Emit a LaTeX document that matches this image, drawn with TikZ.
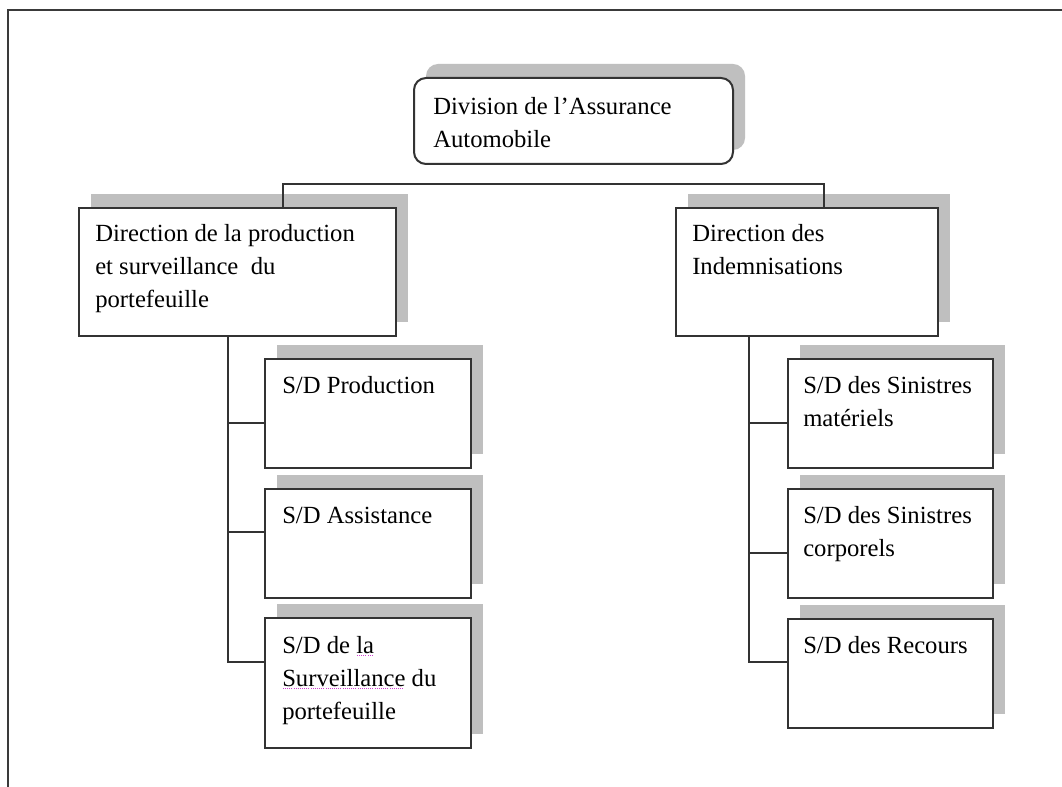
\documentclass[tikz,border=0pt]{standalone}
\usepackage{fontspec}
\setmainfont{Liberation Serif}
\usetikzlibrary{calc,shadows}

\definecolor{framegray}{HTML}{3A3A3A}
\definecolor{edgegray}{HTML}{333333}
\definecolor{shadegray}{HTML}{BFBFBF}
\definecolor{spellmagenta}{HTML}{D040D0}

% lines of a label, stacked with the current baselineskip, first baseline on top
\newcommand\stack[1]{\begin{tabular}[t]{@{}l@{}}#1\end{tabular}}
% dotted proofing mark under a word
\newcommand\spellmark[1]{\setbox0\hbox{#1}%
  \rlap{\raisebox{-2.2pt}{\color{spellmagenta}\leaders\hbox to 1.6pt{\hss\rule{0.7pt}{0.7pt}\hss}\hskip\wd0}}#1}

\tikzset{
  unitbox/.style={draw=edgegray, line width=1.5pt, fill=white, rectangle,
    inner sep=0pt, anchor=north west,
    drop shadow={shadow xshift=9pt, shadow yshift=10.5pt, fill=shadegray, opacity=1}},
  headbox/.style={unitbox, rounded corners=9pt},
  label/.style={anchor=base west, inner sep=0pt,
    font=\fontsize{18.5}{24.75}\selectfont, text=black},
  conn/.style={draw=edgegray, line width=1.3pt},
}

\begin{document}
\begin{tikzpicture}[x=0.75pt, y=-0.75pt]
\useasboundingbox (0,0) rectangle (1062,787);
\fill[white] (0,0) rectangle (1062,787);

% page frame
\draw[framegray, line width=2pt] (8,787) -- (8,10) -- (1062,10);

% division
\node[headbox, minimum width=319*0.75pt, minimum height=86*0.75pt] (div) at (413,77) {};
\node[label] (divT) at (433,115) {\stack{Division de l’Assurance\\Automobile}};

% directions
\node[unitbox, minimum width=317*0.75pt, minimum height=128*0.75pt] (dprod) at (78,207) {};
\node[label] (dprodT) at (95,242) {\stack{Direction de la production\\et surveillance\ \ du\\portefeuille}};

\node[unitbox, minimum width=262*0.75pt, minimum height=128*0.75pt] (dind) at (675,207) {};
\node[label] (dindT) at (692,242) {\stack{Direction des\\Indemnisations}};

% sub-directions, production side
\node[unitbox, minimum width=206*0.75pt, minimum height=109*0.75pt] (sprod) at (264,358) {};
\node[label] (sprodT) at (282,393) {\stack{S/D Production}};
\node[unitbox, minimum width=206*0.75pt, minimum height=109*0.75pt] (sassist) at (264,488) {};
\node[label] (sassistT) at (282,523) {\stack{S/D Assistance}};
\node[unitbox, minimum width=206*0.75pt, minimum height=130*0.75pt] (ssurv) at (264,617) {};
\node[label] (ssurvT) at (282,653) {\stack{S/D de \spellmark{la}\\\spellmark{Surveillance} du\\portefeuille}};

% sub-directions, claims side
\node[unitbox, minimum width=205*0.75pt, minimum height=109*0.75pt] (smat) at (787,358) {};
\node[label] (smatT) at (803,393) {\stack{S/D des Sinistres\\matériels}};
\node[unitbox, minimum width=205*0.75pt, minimum height=109*0.75pt] (scorp) at (787,488) {};
\node[label] (scorpT) at (803,523) {\stack{S/D des Sinistres\\corporels}};
\node[unitbox, minimum width=205*0.75pt, minimum height=109*0.75pt] (srec) at (787,618) {};
\node[label] (srecT) at (803,653) {\stack{S/D des Recours}};

% bus between the two directions
\coordinate (busL) at (283,184);
\coordinate (busR) at (824,184);
\draw[conn] (dprod.north -| busL) -- (busL) -- (busR) -- (dind.north -| busR);

% spines to the sub-directions
\coordinate (spineL) at ($(dprod.south west)+(150,0)$);
\draw[conn] (spineL) |- ($(ssurv.north west)+(0,45)$);
\draw[conn] (spineL) |- ($(sprod.north west)+(0,65)$);
\draw[conn] (spineL) |- ($(sassist.north west)+(0,44)$);

\coordinate (spineR) at ($(dind.south west)+(74,0)$);
\draw[conn] (spineR) |- ($(srec.north west)+(0,44)$);
\draw[conn] (spineR) |- ($(smat.north west)+(0,65)$);
\draw[conn] (spineR) |- ($(scorp.north west)+(0,65)$);
\end{tikzpicture}
\end{document}
